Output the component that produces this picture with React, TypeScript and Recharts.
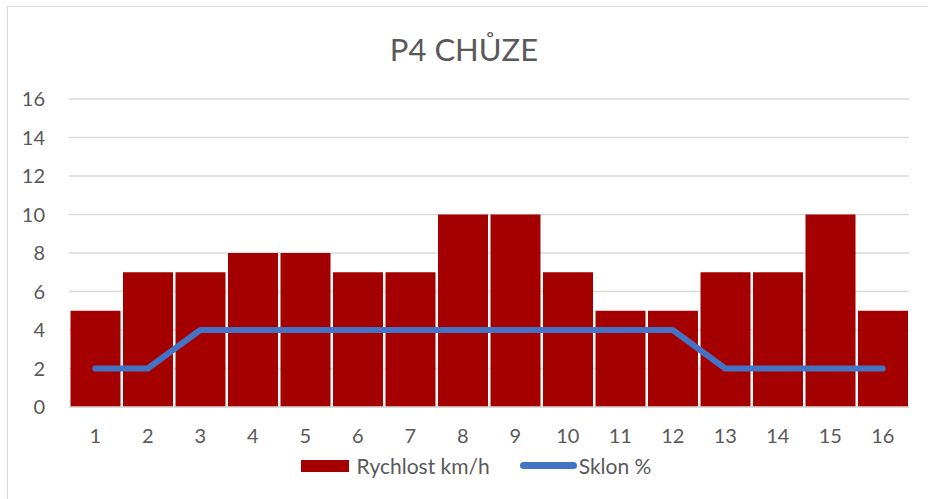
import { ComposedChart, Bar, Line, XAxis, YAxis, CartesianGrid } from "recharts";

const categories = ["1","2","3","4","5","6","7","8","9","10","11","12","13","14","15","16"];
const rychlost = [5,7,7,8,8,7,7,10,10,7,5,5,7,7,10,5];
const sklon = [2,2,4,4,4,4,4,4,4,4,4,4,2,2,2,2];
const yTicks = [0,2,4,6,8,10,12,14,16];

const data = categories.map((c, i) => ({ name: c, rychlost: rychlost[i], sklon: sklon[i] }));

const FONT = "Lato, 'Open Sans', sans-serif";
const GREY = "#595959";

export default function App() {
  return (
    <div style={{ position: "absolute", left: 0, top: 0, width: 928, height: 499, background: "#fff", overflow: "hidden" }}>
      <div style={{ position: "absolute", left: 7, top: 6, width: 940, height: 520, border: "1.5px solid #D9D9D9", boxSizing: "border-box" }} />
      <div style={{ position: "absolute", left: 0, top: 30, width: 928, textAlign: "center", fontFamily: FONT, fontSize: 31, color: GREY }}>
        P4 CHŮZE
      </div>
      <div style={{ position: "absolute", left: 0, top: 0 }}>
        <ComposedChart width={928} height={499} data={data} margin={{ top: 99, right: 19, bottom: 62, left: 24 }} barCategoryGap={1.5}>
          <CartesianGrid vertical={false} stroke="#D9D9D9" strokeWidth={1.5} />
          <XAxis dataKey="name" tickLine={false} axisLine={{ stroke: "#D9D9D9", strokeWidth: 1.5 }} tick={{ fontSize: 20, fill: GREY, fontFamily: FONT }} tickMargin={16} />
          <YAxis domain={[0, 16]} ticks={yTicks} width={45} tickLine={false} axisLine={false} tick={{ fontSize: 20, fill: GREY, fontFamily: FONT, textAnchor: "end" }} tickMargin={18} interval={0} />
          <Bar dataKey="rychlost" name="Rychlost km/h" fill="#A50000" isAnimationActive={false} />
          <Line dataKey="sklon" name="Sklon %" type="linear" stroke="#4472C4" strokeWidth={6} strokeLinecap="round" strokeLinejoin="round" dot={false} activeDot={false} isAnimationActive={false} />
        </ComposedChart>
      </div>
      <div style={{ position: "absolute", left: 0, top: 453, width: 928, display: "flex", justifyContent: "center", alignItems: "center", fontFamily: FONT, fontSize: 21, color: GREY, paddingLeft: 24, boxSizing: "border-box" }}>
        <span style={{ display: "inline-block", width: 48, height: 12, background: "#A50000", marginRight: 8 }} />
        <span style={{ marginRight: 30 }}>Rychlost km/h</span>
        <span style={{ display: "inline-block", width: 57, height: 7, borderRadius: 3.5, background: "#4472C4", marginRight: 2 }} />
        <span>Sklon %</span>
      </div>
    </div>
  );
}
